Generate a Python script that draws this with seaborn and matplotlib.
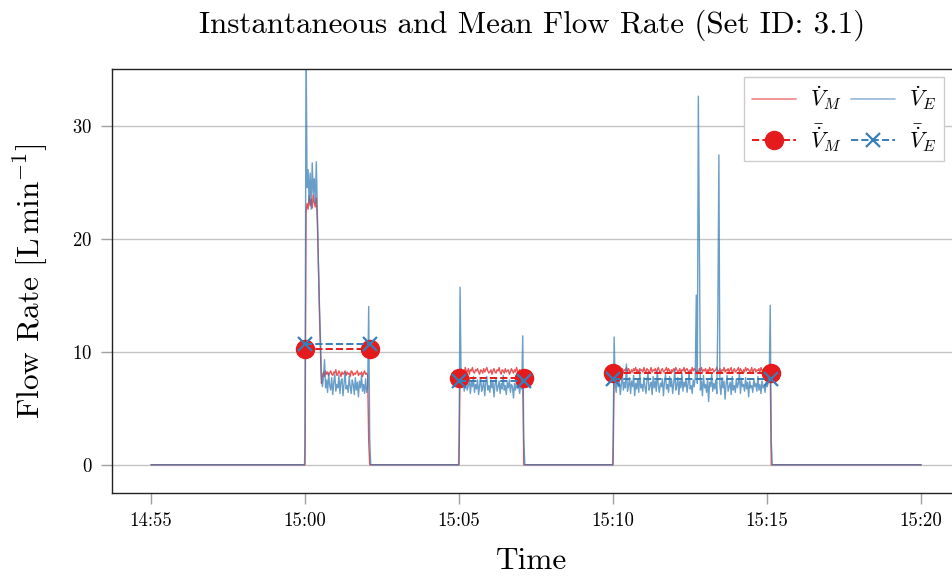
import numpy as np
import pandas as pd
import matplotlib
matplotlib.use("Agg")
import matplotlib.pyplot as plt
import matplotlib.dates as mdates
from matplotlib.lines import Line2D
import seaborn as sns

# ---------------------------------------------------------------
# data (flow in L/min, one sample every 2 s)
# ---------------------------------------------------------------
day = "2023-01-01"
plot_start = "14:55:00"
plot_end = "15:20:00"
segment_starts = ["15:00:00", "15:05:00", "15:10:00"]
sample_step_s = 2

vm_seg1 = [0.0, 22.4, 23.1, 22.6, 23.8, 22.9, 23.5, 22.7, 23.9, 23.2, 22.8, 23.6,
           21.5, 17.8, 13.6, 10.1, 7.2, 7.9, 8.2, 7.8, 8.3, 8.0, 8.2, 7.9, 8.1, 8.3,
           8.0, 7.9, 8.2, 8.1, 8.4, 7.9, 8.0, 8.3, 8.1, 7.8, 8.2, 8.0, 8.1, 8.3, 7.9,
           8.2, 8.0, 8.1, 7.8, 8.3, 8.2, 7.9, 8.1, 8.0, 8.2, 8.3, 7.9, 8.1, 8.0, 8.2,
           7.8, 8.1, 8.3, 8.0, 8.1, 7.9, 2.1, 0.0]
ve_seg1 = [2.2, 38.0, 24.5, 26.1, 23.2, 25.8, 22.6, 26.7, 24.0, 25.3, 23.1, 26.8,
           22.4, 17.9, 14.3, 11.2, 7.6, 6.9, 7.8, 9.3, 6.8, 7.5, 6.4, 8.1, 7.0, 6.6,
           7.7, 6.2, 7.3, 8.0, 6.5, 7.1, 6.8, 7.9, 6.3, 7.4, 7.6, 6.1, 7.2, 8.2, 6.7,
           7.0, 6.4, 7.8, 6.9, 6.3, 7.5, 7.1, 6.2, 7.7, 6.6, 7.3, 6.0, 7.4, 6.8, 7.9,
           6.5, 7.1, 6.3, 7.6, 6.4, 6.9, 14.0, 2.2]

vm_seg2 = [0.0, 8.3, 8.5, 8.2, 8.4, 8.1, 8.6, 8.3, 8.2, 8.5, 8.0, 8.4, 8.3, 8.6,
           8.2, 8.1, 8.4, 8.3, 8.5, 8.2, 8.0, 8.4, 8.3, 8.1, 8.5, 8.2, 8.4, 8.6, 8.3,
           8.1, 8.2, 8.4, 8.0, 8.3, 8.5, 8.2, 8.1, 8.4, 8.3, 8.6, 8.2, 8.0, 8.4, 8.3,
           8.1, 8.5, 8.2, 8.3, 8.4, 8.0, 8.2, 8.5, 8.3, 8.1, 8.4, 8.2, 8.6, 8.3, 8.0,
           8.4, 8.2, 8.3, 8.1, 0.0]
ve_seg2 = [2.5, 15.7, 7.4, 6.8, 7.9, 6.5, 7.2, 8.1, 6.6, 7.0, 7.6, 6.3, 7.3, 6.9,
           7.8, 6.4, 7.1, 6.7, 7.5, 6.2, 7.0, 7.7, 6.5, 6.9, 7.4, 6.1, 7.2, 7.8, 6.6,
           7.0, 6.4, 7.5, 6.8, 7.3, 6.0, 7.1, 7.6, 6.5, 6.9, 7.4, 6.3, 7.2, 6.7, 7.9,
           6.6, 7.0, 6.2, 7.3, 6.8, 7.5, 6.4, 7.1, 6.9, 5.9, 7.2, 6.6, 7.4, 6.8, 7.0,
           6.3, 7.3, 6.7, 11.4, 2.3]

vm_seg3 = [0.0, 8.3, 8.5, 8.2, 8.4, 8.6, 8.3, 8.1, 8.4, 8.5,
           8.2, 8.4, 8.3, 8.6, 8.2, 8.5, 8.3, 8.1, 8.4, 8.2,
           8.5, 8.3, 8.6, 8.2, 8.4, 8.1, 8.5, 8.3, 8.4, 8.2,
           8.6, 8.3, 8.2, 8.5, 8.4, 8.1, 8.3, 8.6, 8.2, 8.4,
           8.3, 8.5, 8.2, 8.4, 8.6, 8.3, 8.1, 8.4, 8.5, 8.2,
           8.3, 8.4, 8.6, 8.2, 8.5, 8.3, 8.1, 8.4, 8.2, 8.5,
           8.3, 8.6, 8.4, 8.2, 8.3, 8.5, 8.1, 8.4, 8.3, 8.6,
           8.2, 8.4, 8.5, 8.3, 8.1, 8.4, 8.2, 8.6, 8.3, 8.5,
           8.4, 8.2, 8.3, 8.1, 8.5, 8.3, 8.6, 8.2, 8.4, 8.3,
           8.5, 8.1, 8.4, 8.2, 8.6, 8.3, 8.4, 8.5, 8.2, 8.3,
           8.4, 8.6, 8.2, 8.3, 8.5, 8.1, 8.4, 8.3, 8.6, 8.2,
           8.4, 8.3, 8.5, 8.2, 8.4, 8.6, 8.1, 8.3, 8.5, 8.2,
           8.3, 8.4, 8.6, 8.2, 8.5, 8.3, 8.1, 8.4, 8.2, 8.6,
           8.3, 8.5, 8.4, 8.2, 8.3, 8.6, 8.1, 8.4, 8.5, 8.2,
           8.4, 8.3, 8.5, 8.2, 8.6, 8.3, 8.4, 8.1, 8.5, 8.3,
           8.2, 8.4, 8.3, 8.5, 0.0]
ve_seg3 = [1.9, 11.3, 7.2, 6.4, 7.8, 6.9, 7.5, 6.2, 7.1, 8.0,
           6.6, 7.3, 6.8, 8.9, 6.5, 7.0, 7.7, 6.3, 7.4, 6.9,
           7.9, 6.1, 7.2, 6.7, 7.6, 6.4, 8.2, 6.8, 7.1, 6.5,
           7.7, 6.9, 6.3, 7.5, 8.1, 6.6, 7.0, 7.3, 6.2, 7.8,
           6.8, 7.4, 6.5, 8.3, 7.0, 6.4, 7.2, 6.9, 7.6, 6.1,
           7.3, 8.0, 6.7, 7.1, 6.4, 7.8, 6.9, 7.5, 6.3, 7.2,
           8.4, 6.6, 7.0, 7.7, 6.2, 7.4, 6.8, 8.1, 6.5, 7.3,
           6.9, 7.6, 6.4, 7.1, 8.2, 6.7, 7.0, 6.3, 7.5, 6.9,
           7.8, 15.0, 7.2, 32.6, 19.3, 6.6, 7.4, 6.1, 7.9, 6.8,
           7.1, 6.4, 7.6, 5.6, 7.3, 6.9, 8.0, 6.5, 7.2, 6.7,
           7.5, 6.3, 13.3, 27.4, 7.0, 6.2, 7.7, 6.8, 7.4, 5.8,
           7.1, 7.9, 6.5, 6.9, 7.3, 6.2, 7.8, 6.6, 7.0, 6.4,
           7.6, 6.8, 7.2, 8.1, 6.3, 7.5, 6.9, 7.1, 6.5, 7.7,
           6.7, 7.3, 6.0, 7.4, 6.8, 7.0, 6.4, 7.6, 6.9, 7.2,
           6.5, 7.8, 6.6, 7.1, 6.3, 7.4, 6.8, 7.0, 6.4, 7.3,
           6.9, 7.2, 7.5, 14.1, 2.1]

vm_means = [10.2, 7.7, 8.1]
ve_means = [10.7, 7.4, 7.6]

RED = "#e41a1c"
BLUE = "#377eb8"


def ts(hms):
    return pd.Timestamp(f"{day} {hms}")


def build_series(segments, name):
    # zero outside the recording windows, samples inside
    rows = [(ts(plot_start), 0.0)]
    step = pd.Timedelta(seconds=sample_step_s)
    for start, vals in zip(segment_starts, segments):
        t0 = ts(start)
        rows.append((t0 - pd.Timedelta(seconds=1), 0.0))
        for i, v in enumerate(vals):
            rows.append((t0 + i * step, v))
        rows.append((t0 + len(vals) * step, 0.0))
    rows.append((ts(plot_end), 0.0))
    df = pd.DataFrame(rows, columns=["time", "flow"])
    df["series"] = name
    return df


inst = pd.concat([build_series([vm_seg1, vm_seg2, vm_seg3], "VM"),
                  build_series([ve_seg1, ve_seg2, ve_seg3], "VE")],
                 ignore_index=True)

seg_lengths = [len(vm_seg1), len(vm_seg2), len(vm_seg3)]
mean_rows = []
for k, (start, n) in enumerate(zip(segment_starts, seg_lengths)):
    t0 = ts(start)
    t1 = t0 + pd.Timedelta(seconds=sample_step_s * (n - 1))
    for t in (t0, t1):
        mean_rows.append((k, t, vm_means[k], ve_means[k]))
means = pd.DataFrame(mean_rows, columns=["segment", "time", "vm", "ve"])

# ---------------------------------------------------------------
# styling
# ---------------------------------------------------------------
sns.set_theme(style="white")
plt.rcParams["font.family"] = "serif"
plt.rcParams["font.serif"] = ["cmr10"]
plt.rcParams["mathtext.fontset"] = "cm"
plt.rcParams["axes.formatter.use_mathtext"] = True
plt.rcParams["axes.unicode_minus"] = False
plt.rcParams["text.color"] = "black"
plt.rcParams["axes.labelcolor"] = "black"

fig = plt.figure(figsize=(9.52, 5.77), dpi=100)
ax = fig.add_axes([0.1176, 0.1456, 0.8824, 0.7348])

ax.grid(axis="y", color="#c4c4c4", linewidth=1.0, zorder=0)
ax.set_axisbelow(True)

sns.lineplot(data=inst, x="time", y="flow", hue="series",
             palette={"VM": RED, "VE": BLUE}, estimator=None,
             linewidth=1.0, alpha=0.75, legend=False, ax=ax)

for k in range(len(segment_starts)):
    m = means[means["segment"] == k]
    ax.plot(m["time"], m["vm"], color=RED, linestyle="--", linewidth=1.4,
            marker="o", markersize=13, zorder=4)
for k in range(len(segment_starts)):
    m = means[means["segment"] == k]
    ax.plot(m["time"], m["ve"], color=BLUE, linestyle="--", linewidth=1.4,
            marker="x", markersize=10, markeredgewidth=1.6, zorder=5)

ax.set_xlim(ts("14:53:44"), ts("15:21:00"))
ax.set_ylim(-2.5, 35)
ax.set_yticks([0, 10, 20, 30])
ax.xaxis.set_major_locator(mdates.MinuteLocator(byminute=range(0, 60, 5)))
ax.xaxis.set_major_formatter(mdates.DateFormatter("%H:%M"))

ax.tick_params(axis="both", which="major", labelsize=13.5, direction="out",
               length=8, width=1.0, color="#a0a0a0", labelcolor="black", pad=6,
               left=True, bottom=True)

for side in ["left", "bottom", "top"]:
    ax.spines[side].set_visible(True)
    ax.spines[side].set_color("#222222")
    ax.spines[side].set_linewidth(1.0)
ax.spines["right"].set_visible(False)

ax.set_title("Instantaneous and Mean Flow Rate (Set ID: 3.1)", fontsize=22.3, pad=26)
ax.set_xlabel("Time", fontsize=22.5, labelpad=12)
ax.set_ylabel(r"Flow Rate [$\mathrm{L\,min^{-1}}$]", fontsize=22.5, labelpad=16)

handles = [
    Line2D([], [], color=RED, linewidth=1.2, alpha=0.55),
    Line2D([], [], color=RED, linestyle="--", linewidth=1.4, marker="o", markersize=13),
    Line2D([], [], color=BLUE, linewidth=1.2, alpha=0.55),
    Line2D([], [], color=BLUE, linestyle="--", linewidth=1.4, marker="x",
           markersize=10, markeredgewidth=1.6),
]
labels = [r"$\dot{V}_M$", r"$\bar{\dot{V}}_M$", r"$\dot{V}_E$", r"$\bar{\dot{V}}_E$"]
leg = ax.legend(handles, labels, loc="upper right", ncol=2, fontsize=16,
                frameon=True, fancybox=False, framealpha=1, edgecolor="#cccccc",
                borderaxespad=0.35, handlelength=2.0, handletextpad=0.6,
                columnspacing=0.4, labelspacing=0.45, borderpad=0.35)
leg.get_frame().set_linewidth(1.0)

fig.savefig("out.png", dpi=100)
